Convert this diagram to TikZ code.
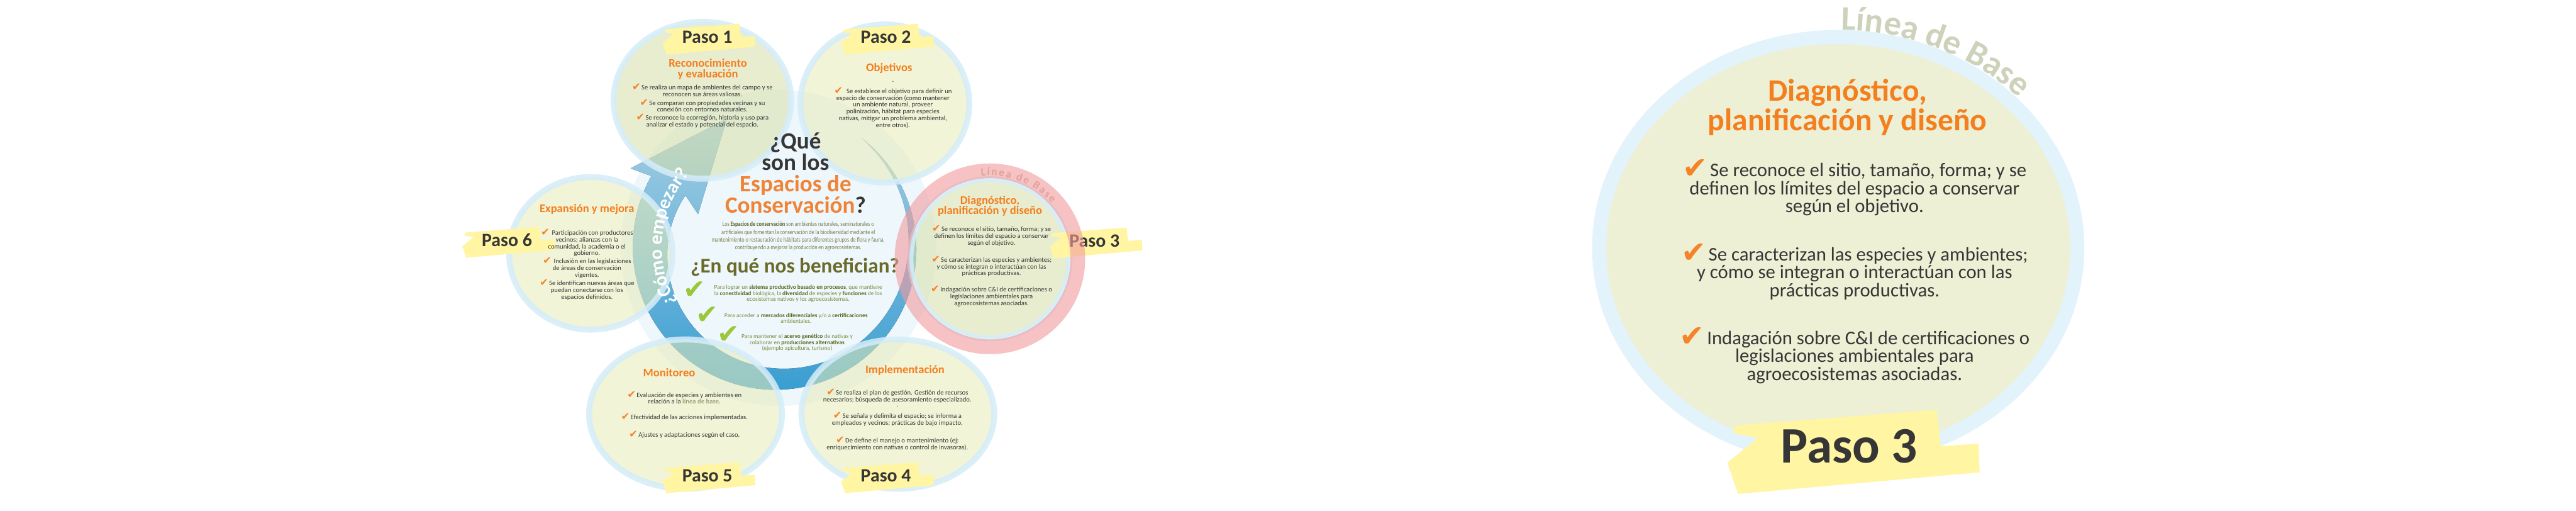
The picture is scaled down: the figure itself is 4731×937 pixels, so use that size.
\documentclass[tikz,border=0pt]{standalone}
\usepackage{fontspec}
\setmainfont{Carlito}
\newfontfamily\djv{DejaVu Sans}
\usetikzlibrary{calc,decorations.text}
\definecolor{orT}{HTML}{F47F1F}
\definecolor{orC}{HTML}{F08436}
\definecolor{dkT}{HTML}{363636}
\definecolor{olT}{HTML}{6A6A2A}
\definecolor{olP}{HTML}{7A7A48}
\definecolor{olPB}{HTML}{5E5E22}
\definecolor{bnT}{HTML}{7B8A3A}
\definecolor{bnB}{HTML}{5B6A1E}
\definecolor{chO}{HTML}{F5832A}
\definecolor{chG}{HTML}{9CC63B}
\definecolor{tpY}{HTML}{FFF5A3}
\definecolor{rgB}{HTML}{D5EDF9}
\definecolor{flY}{HTML}{E8ECB8}
\definecolor{flG}{HTML}{D8E0A8}
\definecolor{pkR}{HTML}{F29A9E}
\definecolor{lbS}{HTML}{DFA296}
\definecolor{lbR}{HTML}{CDD2BA}
\definecolor{fnB}{HTML}{EEF7FC}
\definecolor{blD}{HTML}{3DAAE2}
\definecolor{blM}{HTML}{62BDE8}
\definecolor{blL}{HTML}{B3DFF5}
\definecolor{rtF}{HTML}{EDF0D4}
\definecolor{rtR}{HTML}{E2F3FB}
\definecolor{grG}{HTML}{9AA67C}
\newcommand{\ck}{\smash{\raisebox{-0.1em}{\textcolor{chO}{\scalebox{1.55}{\djv\char"2714}}}}\hspace{0.12em}}
\newcommand{\bb}[1]{\textcolor{bnB}{\bfseries #1}}
\newcommand{\tapeshape}[3]{%
  \fill[tpY, shift={(#1,#2)}, scale=#3] (-2.2,-0.41) -- (1.71,-0.71) -- (1.79,0) -- (2.53,-0.05) -- (2.55,0.51) -- (-2.17,0.93) -- (-2.38,0.32) -- (-1.78,-0.16) -- (-2.28,-0.26) -- cycle;}
\tikzset{
  pasolbl/.style={font=\fontsize{9.8}{10}\selectfont\bfseries, text=dkT, inner sep=0pt},
  ctitle/.style={font=\fontsize{6.1}{5.4}\selectfont\bfseries, text=orT, align=center, inner sep=0pt},
  cbody/.style={font=\fontsize{3.5}{3.55}\selectfont, text=dkT, align=center, inner sep=0pt},
  stepcirc/.style={draw=rgB, line width=1.1mm, draw opacity=0.85, fill opacity=0.55},
  bentext/.style={font=\fontsize{3.1}{3.2}\selectfont, text=bnT, align=center, inner sep=0pt},
  gchk/.style={font=\djv\fontsize{14}{14}\selectfont, text=chG, inner sep=0pt},
  rbody/.style={font=\fontsize{10.1}{9.4}\selectfont, text=dkT, align=center, inner sep=0pt},
}
\begin{document}
\begin{tikzpicture}[x=0.1mm,y=-0.1mm]
\useasboundingbox (0,0) rectangle (4731,937);
\fill[white] (0,0) rectangle (4731,937);
% faint big circle
\fill[fnB] (1430,455) circle[radius=29mm];
% blue swirl arrow
\fill[top color=blL, middle color=blM, bottom color=blD, fill opacity=0.92]
  plot[domain=0:1,samples=90] ({1426+(255+10*\x)*cos(52-262*\x)},{455-(255+10*\x)*sin(52-262*\x)})
  -- (1158,309) -- (1335,218) -- (1282,393)
  -- plot[domain=0:1,samples=90] ({1426+(255-62*(1-\x))*cos(52-262*(1-\x))},{455-(255-62*(1-\x))*sin(52-262*(1-\x))}) -- cycle;
% step circles
\path[stepcirc, fill=flG] (1290,184) circle[x radius=16.3mm, y radius=14.4mm];
\path[stepcirc, fill=flY] (1625,190) circle[x radius=15.5mm, y radius=14.5mm];
\path[stepcirc, fill=flY] (1085,465) circle[x radius=15mm, y radius=14mm];
\path[stepcirc, fill=flY] (1259,760) circle[x radius=17.7mm, y radius=13.7mm];
\path[stepcirc, fill=flY] (1649,760) circle[x radius=17.7mm, y radius=13.7mm];
\path[stepcirc, fill=flG] (1818,475) circle[radius=14.6mm];
% tapes and Paso labels
\tapeshape{1299}{68}{34.5}
\node[pasolbl] (p1) at (1299,68) {Paso 1};
\tapeshape{1627}{68}{34.5}
\node[pasolbl] (p2) at (1627,68) {Paso 2};
\tapeshape{2010}{442}{34.5}
\node[pasolbl] (p3) at (2010,442) {Paso 3};
\tapeshape{1627}{873}{34.5}
\node[pasolbl] (p4) at (1627,873) {Paso 4};
\tapeshape{1299}{873}{34.5}
\node[pasolbl] (p5) at (1299,873) {Paso 5};
\tapeshape{931}{441}{34.5}
\node[pasolbl] (p6) at (931,441) {Paso 6};
% circle 1
\node[ctitle] (t1) at (1300,127) {Reconocimiento\\y evaluación};
\node[cbody] (b11) at (1290,167) {\ck Se realiza un mapa de ambientes del campo y se\\reconocen sus áreas valiosas.};
\node[cbody] (b12) at (1290,195) {\ck Se comparan con propiedades vecinas y su\\conexión con entornos naturales.};
\node[cbody] (b13) at (1290,223) {\ck Se reconoce la ecorregión, historia y uso para\\analizar el estado y potencial del espacio.};
% circle 2
\node[ctitle] (t2) at (1633,125) {Objetivos};
\node[cbody] (d2) at (1640,150) {.};
\node[cbody] (b21) at (1640,199) {\ck\ \ Se establece el objetivo para definir un\\espacio de conservación (como mantener\\un ambiente natural, proveer\\polinización, hábitat para especies\\nativas, mitigar un problema ambiental,\\entre otros).};
% circle 6
\node[ctitle] (t6) at (1078,384) {Expansión y mejora};
\node[cbody] (b61) at (1078,447) {\ck\ Participación con productores\\vecinos; alianzas con la\\comunidad, la academia o el\\gobierno.};
\node[cbody] (b62) at (1078,493) {\ck\ Inclusión en las legislaciones\\de áreas de conservación\\vigentes.};
\node[cbody] (b63) at (1078,533) {\ck Se identifican nuevas áreas que\\puedan conectarse con los\\espacios definidos.};
% circle 5
\node[ctitle] (t5) at (1229,684) {Monitoreo};
\node[cbody] (b51) at (1257,731) {\ck Evaluación de especies y ambientes en\\relación a la \textcolor{grG}{\bfseries línea de base}.};
\node[cbody] (b52) at (1257,767) {\ck Efectividad de las acciones implementadas.};
\node[cbody] (b53) at (1257,799) {\ck Ajustes y adaptaciones según el caso.};
% circle 4
\node[ctitle] (t4) at (1662,680) {Implementación};
\node[cbody] (b41) at (1648,728) {\ck Se realiza el plan de gestión. Gestión de recursos\\necesarios; búsqueda de asesoramiento especializado.};
\node[cbody] (d4) at (1648,746) {.};
\node[cbody] (b42) at (1648,771) {\ck Se señala y delimita el espacio; se informa a\\empleados y vecinos; prácticas de bajo impacto.};
\node[cbody] (b43) at (1648,815) {\ck De define el manejo o mantenimiento (ej:\\enriquecimiento con nativas o control de invasoras).};
% circle 3 small
\node[ctitle] (t3) at (1818,378) {Diagnóstico,\\planificación y diseño};
\node[cbody] (b31) at (1821,434) {\ck Se reconoce el sitio, tamaño, forma; y se\\definen los límites del espacio a conservar\\según el objetivo.};
\node[cbody] (b32) at (1821,490) {\ck Se caracterizan las especies y ambientes;\\y cómo se integran o interactúan con las\\prácticas productivas.};
\node[cbody] (b33) at (1821,545) {\ck Indagación sobre C\&I de certificaciones o\\legislaciones ambientales para\\agroecosistemas asociadas.};
% centre
\node[font=\fontsize{12.2}{11.2}\selectfont\bfseries, text=dkT, align=center, inner sep=0pt] (q) at (1461,317)
  {¿Qué\\son los\\\textcolor{orC}{Espacios de}\\\textcolor{orC}{Conservación}?};
\node[font=\fontsize{3.4}{4.1}\selectfont, text=olP, inner sep=0pt] (par) at (1466,434)
  {\scalebox{0.8}[1]{\begin{tabular}{@{}c@{}}Los \textcolor{olPB}{\bfseries Espacios de conservación} son ambientes naturales, seminaturales o\\artificiales que fomentan la conservación de la biodiversidad mediante el\\mantenimiento o restauración de hábitats para diferentes grupos de flora y fauna,\\contribuyendo a mejorar la producción en agroecosistemas.\end{tabular}}};
\node[font=\fontsize{10.9}{11}\selectfont\bfseries, text=olT, inner sep=0pt] (enq) at (1460,490) {¿En qué nos benefician?};
\node[bentext] (bn1) at (1466,539) {Para lograr un \bb{sistema productivo basado en procesos}, que mantiene\\la \bb{conectividad} biológica, la \bb{diversidad} de especies y \bb{funciones} de los\\ecosistemas nativos y los agroecosistemas.};
\node[bentext] (bn2) at (1462,584) {Para acceder a \bb{mercados diferenciales} y/o a \bb{certificaciones}\\ambientales.};
\node[bentext] (bn3) at (1464,629) {Para mantener el \bb{acervo genético} de nativas y\\colaborar en \bb{producciones alternativas}\\(ejemplo apicultura, turismo)};
\node[gchk] (g1) at (1276,532) {\char"2714};
\node[gchk] (g2) at (1299,579) {\char"2714};
\node[gchk] (g3) at (1338,614) {\char"2714};
% Como empezar
\path[decorate, decoration={text along path, text align=center,
  text={|\fontsize{10}{10}\selectfont\bfseries\color{white}|¿Cómo empezar?}}]
  plot[domain=0:1, samples=60] ({1426+210*cos(230-112*\x)},{455-210*sin(230-112*\x)});
% pink ring of step 3
\draw[pkR, line width=2.7mm, opacity=0.6] (1818,475) circle[radius=16.15mm];
\path[decorate, decoration={text along path, text align={fit to path},
  text={|\fontsize{5.7}{6}\selectfont\bfseries\color{lbS}|Línea de Base}}]
  plot[domain=0:1, samples=40] ({1818+153*cos(96-54*\x)},{475-153*sin(96-54*\x)});
% ===== right enlarged step 3 =====
\fill[rtR] (3376,455) circle[x radius=45.2mm, y radius=40mm];
\fill[rtF] (3376,455) circle[x radius=42.6mm, y radius=37.4mm];
\path[decorate, decoration={text along path, text align=center,
  text={|\fontsize{18}{18}\selectfont\bfseries\color{lbR}|Línea de Base}}]
  plot[domain=0:1, samples=60] ({3376+458*cos(-100+68*\x)},{455+400*sin(-100+68*\x)});
\node[font=\fontsize{16.3}{15.4}\selectfont\bfseries, text=orT, align=center, inner sep=0pt] (rt) at (3393,197) {Diagnóstico,\\planificación y diseño};
\node[rbody] (rb1) at (3406,348) {\ck Se reconoce el sitio, tamaño, forma; y se\\definen los límites del espacio a conservar\\según el objetivo.};
\node[rbody] (rb2) at (3406,502) {\ck Se caracterizan las especies y ambientes;\\y cómo se integran o interactúan con las\\prácticas productivas.};
\node[rbody] (rb3) at (3406,656) {\ck Indagación sobre C\&I de certificaciones o\\legislaciones ambientales para\\agroecosistemas asociadas.};
\tapeshape{3396}{819}{94}
\node[font=\fontsize{26.7}{27}\selectfont\bfseries, text=dkT, inner sep=0pt] (rp3) at (3396,819) {Paso 3};
\end{tikzpicture}
\end{document}
